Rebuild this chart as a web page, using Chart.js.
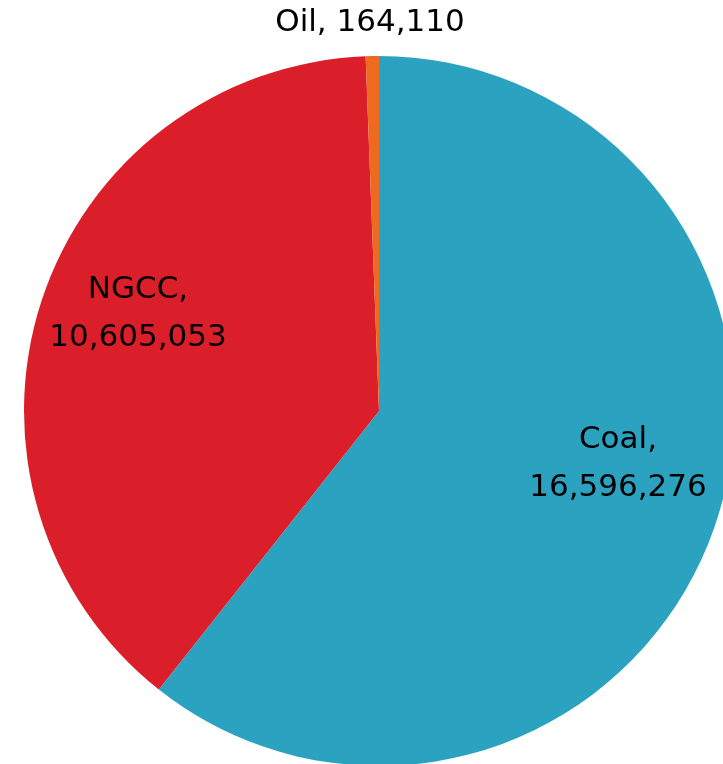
<!DOCTYPE html>
<html>
<head>
<meta charset="utf-8">
<script src="https://cdn.jsdelivr.net/npm/chart.js@4/dist/chart.umd.min.js"></script>
<style>
  html, body { margin: 0; padding: 0; background: #fff; overflow: hidden; }
  #wrap { position: absolute; left: 0; top: 0; width: 758px; height: 800px; }
</style>
</head>
<body>
<div id="wrap"><canvas id="pie"></canvas></div>
<script>
// Generation by fuel type
const categories = ['Coal', 'NGCC', 'Oil'];
const values = [16596276, 10605053, 164110];
const colors = ['#2ca2c1', '#da1f2a', '#ee6a1f'];

// where each label sits, relative to the pie centre (px)
const labelSpots = [
  { dx: 239, dy: 53, lines: 2 },
  { dx: -241, dy: -97, lines: 2 },
  { dx: -9, dy: -388, lines: 1 }
];

const fmt = n => n.toLocaleString('en-US');

const sliceLabels = {
  id: 'sliceLabels',
  afterDatasetsDraw(chart) {
    const ctx = chart.ctx;
    const arc = chart.getDatasetMeta(0).data[0];
    const cx = arc.x, cy = arc.y;
    ctx.save();
    ctx.font = '31px "DejaVu Sans", sans-serif';
    ctx.fillStyle = '#000';
    ctx.textAlign = 'center';
    ctx.textBaseline = 'middle';
    categories.forEach((name, i) => {
      const s = labelSpots[i];
      const x = cx + s.dx, y = cy + s.dy;
      if (s.lines === 2) {
        ctx.fillText(name + ',', x, y - 24);
        ctx.fillText(fmt(values[i]), x, y + 24);
      } else {
        ctx.fillText(name + ', ' + fmt(values[i]), x, y);
      }
    });
    ctx.restore();
  }
};

new Chart(document.getElementById('pie'), {
  type: 'pie',
  data: {
    labels: categories,
    datasets: [{
      data: values,
      backgroundColor: colors,
      borderWidth: 0
    }]
  },
  options: {
    responsive: true,
    maintainAspectRatio: false,
    animation: false,
    layout: { padding: { left: 24, right: 24, top: 56, bottom: 34 } },
    plugins: {
      legend: { display: false },
      tooltip: { enabled: false }
    }
  },
  plugins: [sliceLabels]
});
</script>
</body>
</html>
